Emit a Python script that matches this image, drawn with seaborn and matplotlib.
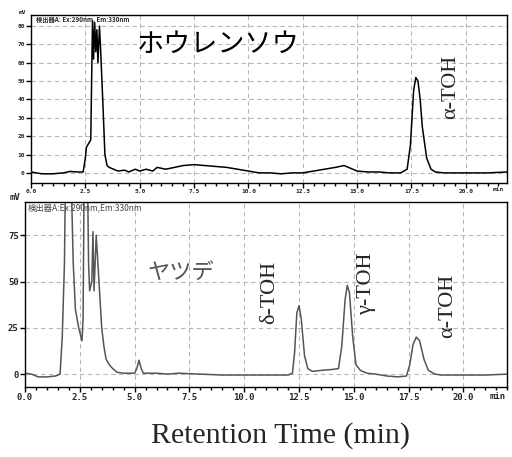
import matplotlib
matplotlib.use("Agg")
import matplotlib.pyplot as plt
import seaborn as sns
from matplotlib.ticker import MultipleLocator

# spinach (ホウレンソウ) chromatogram, time in min, signal in mV
spinach_time = [0.0, 0.5, 1.0, 1.5, 1.8, 2.1, 2.4, 2.5, 2.55, 2.65, 2.75, 2.83, 2.88,
                2.93, 2.98, 3.03, 3.08, 3.15, 3.2, 3.3, 3.4, 3.5, 3.6, 3.8, 4.0, 4.3,
                4.5, 4.8, 5.0, 5.3, 5.6, 5.8, 6.2, 6.6, 7.0, 7.5, 8.0, 8.5, 9.0, 9.5,
                10.0, 10.5, 11.0, 11.5, 12.0, 12.5, 13.0, 13.5, 14.0, 14.4, 14.6, 15.0,
                15.5, 16.0, 16.5, 17.0, 17.3, 17.45, 17.6, 17.7, 17.8, 17.9, 18.0,
                18.2, 18.4, 18.6, 19.0, 20.0, 21.0, 21.9]
spinach_mv = [0.5, -0.5, -0.5, 0.0, 0.8, 0.5, 0.5, 8, 14, 16, 18, 83, 62,
              82, 66, 78, 60, 80, 68, 40, 10, 4, 3, 2, 1, 1.5,
              0.5, 2, 1, 2, 1, 3, 2, 3, 4, 4.5, 4, 3.5, 3, 2,
              1, 0, 0, -0.5, 0, 0, 1, 2, 3, 4, 3, 1,
              0.5, 0.5, 0, 0, 2, 15, 45, 52, 50, 40, 25,
              8, 2, 0.5, 0, 0, 0, 0.5]

# yatsude (ヤツデ) chromatogram
yatsude_time = [0.0, 0.3, 0.6, 1.0, 1.4, 1.6, 1.7, 1.8, 1.85, 2.1, 2.2, 2.3, 2.45,
                2.6, 2.65, 2.7, 2.85, 2.9, 2.95, 3.05, 3.1, 3.15, 3.25, 3.35, 3.5,
                3.6, 3.7, 3.85, 4.0, 4.2, 4.5, 5.0, 5.1, 5.2, 5.3, 5.4, 6.0, 6.5,
                7.0, 8.0, 9.0, 10.0, 11.0, 12.0, 12.2, 12.3, 12.4, 12.5, 12.6, 12.75,
                12.9, 13.1, 13.5, 14.0, 14.3, 14.45, 14.6, 14.7, 14.8, 14.95, 15.1,
                15.3, 15.6, 16.0, 16.5, 17.0, 17.4, 17.55, 17.7, 17.85, 18.0, 18.2,
                18.4, 18.7, 19.0, 20.0, 21.0, 22.0]
yatsude_mv = [0.5, 0, -1.5, -1.5, -1, 0, 20, 60, 110, 110, 60, 35, 25,
              18, 30, 110, 110, 60, 45, 50, 77, 45, 75, 55, 25,
              15, 8, 5, 3, 1, 0.5, 0.5, 3, 7.5, 3, 0.5, 0.5, 0,
              0.5, 0, -0.5, -0.5, -0.5, -0.5, 0.5, 12, 33, 37, 30, 10,
              3, 1.5, 2, 2.5, 3, 15, 40, 48, 44, 20, 5,
              2, 0.5, 0, -1, -1.5, -1, 5, 16, 20, 18, 8,
              2, 0, -0.5, -0.5, -0.5, 0]

x_ticks = [0.0, 2.5, 5.0, 7.5, 10.0, 12.5, 15.0, 17.5, 20.0]
x_tick_labels = ["0.0", "2.5", "5.0", "7.5", "10.0", "12.5", "15.0", "17.5", "20.0"]
top_y_ticks = [0, 10, 20, 30, 40, 50, 60, 70, 80]
bottom_y_ticks = [0, 25, 50, 75]

# peak labels: (name, time, mV)
top_peaks = [("α-TOH", 19.3, 47)]
bottom_peaks = [("δ-TOH", 11.15, 44), ("γ-TOH", 15.6, 49), ("α-TOH", 19.3, 37)]

sns.set_style("white")
plt.rcParams["font.family"] = ["Noto Sans CJK JP", "DejaVu Sans"]

fig = plt.figure(figsize=(5.12, 4.57), dpi=100)
ax_top = fig.add_axes([0.0605, 0.600, 0.930, 0.367])
ax_bot = fig.add_axes([0.0488, 0.153, 0.942, 0.405])

grid_kw = dict(color="#b8b8b8", linestyle=(0, (4, 3)), linewidth=0.8)
serif = ["Liberation Serif", "DejaVu Serif"]
mono = ["DejaVu Sans Mono"]


def style_axes(ax, xmax, ymin, ymax, yticks, fs):
    ax.set_xlim(0, xmax)
    ax.set_ylim(ymin, ymax)
    ax.set_xticks(x_ticks)
    ax.set_xticklabels(x_tick_labels, family=mono, fontsize=fs, fontweight="bold")
    ax.set_yticks(yticks)
    ax.set_yticklabels([str(v) for v in yticks], family=mono, fontsize=fs,
                       fontweight="bold")
    ax.xaxis.set_minor_locator(MultipleLocator(0.5))
    ax.tick_params(axis="both", which="major", direction="out", length=3.5,
                   width=1, pad=1, bottom=True, left=True, color="black")
    ax.tick_params(axis="x", which="minor", direction="out", length=1.8,
                   width=1, bottom=True, color="black")
    ax.grid(True, which="major", **grid_kw)
    for sp in ax.spines.values():
        sp.set_color("black")
        sp.set_linewidth(1.0)
    ax.set_xlabel("")
    ax.set_ylabel("")
    ax.text(-0.01, 1.0, "mV", transform=ax.transAxes, ha="right", va="bottom",
            family=mono, fontsize=fs, fontweight="bold")


sns.lineplot(x=spinach_time, y=spinach_mv, ax=ax_top, color="black",
             linewidth=1.1, estimator=None, sort=False)
style_axes(ax_top, 21.9, -5.4, 86, top_y_ticks, 4.5)
ax_top.text(21.75, -7.5, "min", ha="right", va="top", family=mono,
            fontsize=4.5, fontweight="bold")
ax_top.text(0.01, 0.995, "検出器A: Ex:290nm, Em:330nm", transform=ax_top.transAxes,
            ha="left", va="top", fontsize=4.5, fontweight="bold")
ax_top.text(8.6, 70, "ホウレンソウ", ha="center", va="center", fontsize=19.5,
            color="black")
for name, t, v in top_peaks:
    ax_top.text(t, v, name, rotation=90, ha="center", va="center",
                family=serif, fontsize=16)

sns.lineplot(x=yatsude_time, y=yatsude_mv, ax=ax_bot, color="#555555",
             linewidth=1.1, estimator=None, sort=False)
style_axes(ax_bot, 22.0, -7, 93, bottom_y_ticks, 6.5)
ax_bot.text(21.95, -9.5, "min", ha="right", va="top", family=mono,
            fontsize=6.5, fontweight="bold")
ax_bot.text(0.005, 0.995, "検出器A:Ex:290nm,Em:330nm", transform=ax_bot.transAxes,
            ha="left", va="top", fontsize=6, color="#444444")
ax_bot.text(7.1, 55, "ヤツデ", ha="center", va="center", fontsize=16,
            color="#555555")
for name, t, v in bottom_peaks:
    ax_bot.text(t, v, name, rotation=90, ha="center", va="center",
                family=serif, fontsize=16)

fig.text(0.547, 0.048, "Retention Time (min)", ha="center", va="center",
         family=serif, fontsize=21.5)

fig.savefig("out.png", dpi=100)
